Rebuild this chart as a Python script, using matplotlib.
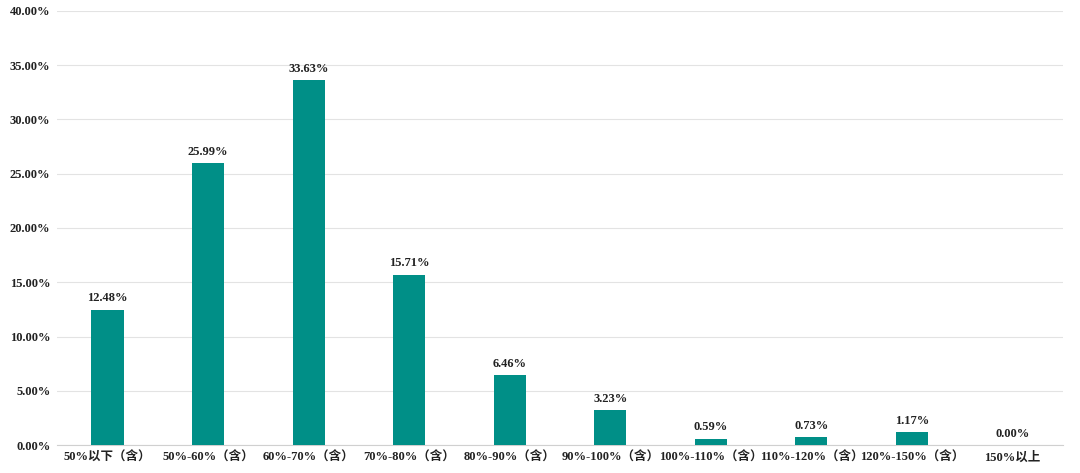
import matplotlib.pyplot as plt
from matplotlib.ticker import FuncFormatter

# data
categories = ["50%以下（含）", "50%-60%（含）", "60%-70%（含）", "70%-80%（含）", "80%-90%（含）",
              "90%-100%（含）", "100%-110%（含）", "110%-120%（含）", "120%-150%（含）", "150%以上"]
shares = [12.48, 25.99, 33.63, 15.71, 6.46, 3.23, 0.59, 0.73, 1.17, 0.00]

plt.rcParams['font.family'] = ['Liberation Serif', 'Noto Sans CJK SC']

fig = plt.figure(figsize=(10.8, 4.73), dpi=100)
ax = fig.add_axes([0.053, 0.059, 0.931, 0.918])

x = range(len(categories))
bars = ax.bar(x, shares, width=0.32, color="#008F87", zorder=3)

for b, v in zip(bars, shares):
    ax.text(b.get_x() + b.get_width() / 2, v + 0.5, f"{v:.2f}%", ha="center", va="bottom",
            fontsize=9, fontweight="bold", color="#222222")

ax.set_xlim(-0.5, len(categories) - 0.5)
ax.set_ylim(0, 40)
ax.set_yticks(range(0, 41, 5))
ax.yaxis.set_major_formatter(FuncFormatter(lambda v, p: f"{v:.2f}%"))
ax.set_xticks(list(x))
ax.set_xticklabels(categories)
ax.grid(axis="y", color="#e3e3e3", linewidth=0.8, zorder=0)

for s in ["top", "right", "left"]:
    ax.spines[s].set_visible(False)
ax.spines["bottom"].set_color("#d0d0d0")
ax.tick_params(axis="both", length=0, labelsize=9, colors="#222222")
ax.tick_params(axis="x", pad=5)
ax.tick_params(axis="y", pad=5)
for lab in ax.get_xticklabels() + ax.get_yticklabels():
    lab.set_fontweight("bold")

fig.savefig("out.png", dpi=100)
